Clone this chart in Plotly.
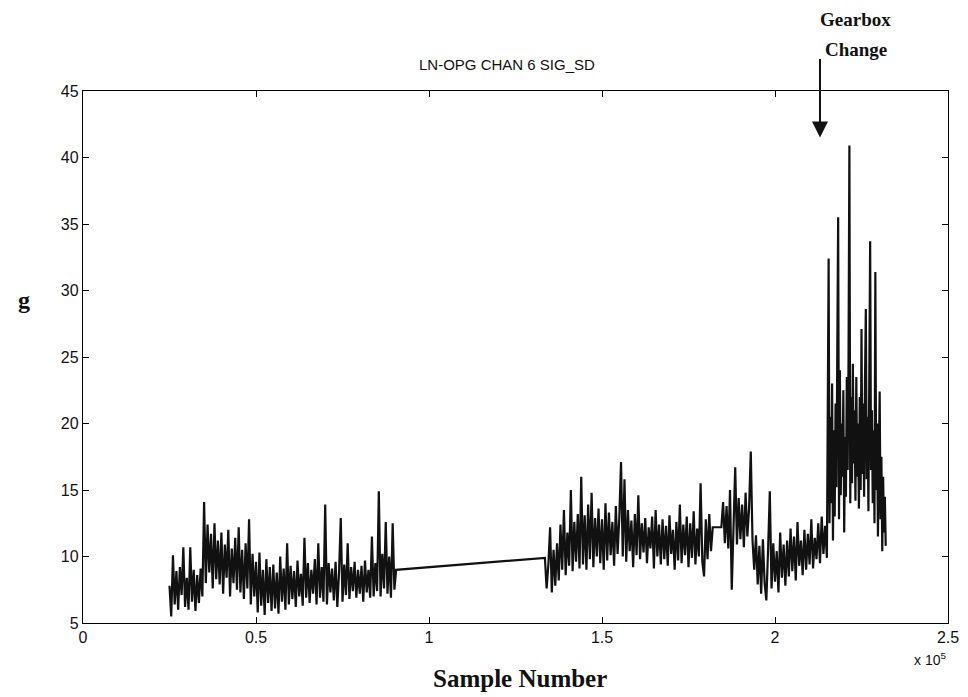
import numpy as np
import plotly.graph_objects as go

# ---- data (sample number, g) ----
# segment 1: samples 25000..90500, step 500
seg1_start, seg1_step = 25000, 500
seg1_values = [
    7.8, 5.5, 10.1, 6.4, 8.9, 6.0, 9.2, 7.1, 10.7, 6.2,
    8.4, 6.0, 10.7, 6.6, 9.0, 5.9, 8.6, 6.5, 9.1, 7.0,
    14.1, 8.0, 12.4, 8.8, 11.7, 7.6, 12.5, 8.3, 11.2, 7.9,
    11.8, 7.2, 10.9, 8.4, 12.0, 7.0, 10.6, 8.0, 11.4, 7.5,
    12.2, 7.3, 10.5, 6.8, 11.0, 7.6, 12.8, 6.4, 10.2, 7.0,
    9.6, 5.8, 10.3, 6.3, 9.0, 5.6, 9.8, 6.5, 9.2, 5.9,
    9.4, 6.1, 8.8, 5.7, 10.0, 6.6, 9.1, 6.0, 11.0, 6.4,
    9.3, 6.8, 8.9, 6.2, 9.7, 7.0, 8.7, 6.3, 11.4, 6.9,
    9.5, 6.5, 9.0, 7.2, 9.8, 6.4, 11.0, 6.9, 9.2, 6.6,
    13.9, 6.4, 9.5, 7.3, 9.1, 6.7, 9.6, 6.2, 8.8, 12.9,
    6.6, 9.4, 7.1, 11.0, 6.8, 9.2, 7.4, 9.6, 6.9, 9.0,
    7.2, 9.3, 6.6, 9.7, 7.3, 9.0, 6.9, 11.5, 7.0, 9.5,
    7.4, 14.9, 7.0, 10.2, 7.6, 12.6, 7.2, 10.0, 6.9, 12.5, 7.5, 9.0,
]

# segment 2a: samples 133500..182000, step 500
seg2a_start, seg2a_step = 133500, 500
seg2a_values = [
    9.9, 7.6, 9.4, 12.2, 7.3, 10.5, 7.8, 11.0, 8.2,
    12.4, 9.0, 13.5, 8.6, 11.8, 9.3, 15.0, 8.9, 12.6, 9.6, 13.2, 9.1,
    16.0, 9.4, 13.1, 9.0, 13.9, 9.8, 14.8, 9.2, 12.9, 10.0, 13.6, 9.5,
    12.8, 9.0, 14.0, 9.7, 13.3, 10.1, 12.6, 9.3, 13.8, 10.2, 12.9, 17.1,
    10.0, 15.8, 9.6, 13.5, 10.4, 12.7, 9.2, 13.2, 10.1, 14.6, 9.8, 12.5,
    10.3, 12.9, 9.5, 12.2, 10.6, 13.0, 9.1, 13.5, 10.0, 12.4, 9.4, 12.8,
    9.8, 12.3, 9.3, 13.1, 10.2, 12.0, 9.0, 12.6, 9.7, 13.9, 9.5, 12.4,
    10.1, 13.0, 9.2, 12.5, 9.9, 13.4, 9.4, 12.1, 10.0, 15.5, 9.6, 8.5,
    12.8, 9.8, 13.2, 10.4,
    12.2,
]

# segment 2b: samples 184500..215000, step 500
seg2b_start, seg2b_step = 184500, 500
seg2b_values = [
    12.2, 14.1, 11.0, 13.8, 10.6, 15.0, 7.5, 13.2, 16.7, 10.9,
    14.4, 11.3, 13.9, 10.7, 14.8, 11.5, 13.6, 17.9, 11.2,
    9.0, 11.6, 7.9, 10.8, 7.2, 11.3, 8.0, 6.7, 10.5, 14.9,
    7.6, 11.0, 8.1, 10.4, 7.3, 11.8, 8.4, 10.9, 7.8, 11.2,
    8.5, 12.1, 8.9, 11.5, 8.2, 12.6, 9.3, 11.2, 8.6, 12.0,
    9.0, 11.7, 9.4, 12.8, 9.1, 11.4, 9.8, 12.5, 9.5, 13.0,
    10.2, 12.3, 9.9,
]

# segment 2c: samples 215500..232000, step 250
seg2c_start, seg2c_step = 215500, 250
seg2c_values = [
    32.4, 12.5, 20.5, 14.0, 23.0, 11.2, 19.5, 13.0, 21.5, 15.2,
    22.8, 35.5, 12.8, 24.0, 14.6, 20.0, 16.0, 22.5, 11.8, 19.0,
    14.5, 23.5, 16.5, 25.0, 40.9, 14.0, 22.0, 15.5, 24.5, 17.0,
    21.0, 14.2, 23.5, 16.0, 20.0, 13.6, 22.0, 15.0, 27.1, 16.2,
    21.5, 14.5, 23.0, 28.6, 15.8, 20.5, 13.4, 22.5, 33.7, 16.5,
    21.0, 14.0, 19.5, 12.5, 31.4, 15.0, 20.0, 11.5, 18.0, 22.4,
    12.8, 17.5, 10.4, 16.0, 11.8, 14.5, 10.8,
]

x_tick_vals = [0, 50000, 100000, 150000, 200000, 250000]
x_tick_text = ["0", "0.5", "1", "1.5", "2", "2.5"]
y_tick_vals = [5, 10, 15, 20, 25, 30, 35, 40, 45]

title_text = "LN-OPG CHAN 6 SIG_SD"
event_label = "Gearbox<br>Change"
event_sample = 213000
event_value = 41.5


def seg_x(start, step, vals):
    return [start + step * i for i in range(len(vals))]


xs = (seg_x(seg1_start, seg1_step, seg1_values)
      + seg_x(seg2a_start, seg2a_step, seg2a_values)
      + seg_x(seg2b_start, seg2b_step, seg2b_values)
      + seg_x(seg2c_start, seg2c_step, seg2c_values))
ys = seg1_values + seg2a_values + seg2b_values + seg2c_values

fig = go.Figure()
fig.add_trace(go.Scatter(x=xs, y=ys, mode="lines",
                         line=dict(color="#111111", width=2.2),
                         showlegend=False, hoverinfo="skip"))

axis_common = dict(showline=True, linecolor="black", linewidth=1.4,
                   mirror="allticks", ticks="inside", ticklen=6,
                   tickcolor="black", showgrid=False, zeroline=False,
                   tickfont=dict(family="Arial, Liberation Sans", size=16, color="#111"))

fig.update_layout(
    width=968, height=697,
    margin=dict(l=75, r=28, t=83, b=82),
    paper_bgcolor="white", plot_bgcolor="white",
    xaxis=dict(range=[0, 250000], tickvals=x_tick_vals, ticktext=x_tick_text,
               **axis_common),
    yaxis=dict(range=[5, 45], tickvals=y_tick_vals, **axis_common),
)

# title
fig.add_annotation(text=title_text, xref="paper", yref="paper",
                   x=0.49, y=1.0, yshift=37, showarrow=False,
                   font=dict(family="Arial, Liberation Sans", size=15, color="#111"))
# x label
fig.add_annotation(text="<b>Sample Number</b>", xref="paper", yref="paper",
                   x=0.505, y=0, yshift=-71, showarrow=False,
                   font=dict(family="Liberation Serif, Times New Roman", size=25, color="#111"))
# exponent
fig.add_annotation(text="x 10<sup>5</sup>", xref="paper", yref="paper",
                   x=1.0, y=0, yshift=-47, showarrow=False,
                   font=dict(family="Arial, Liberation Sans", size=14, color="#111"))
# y label
fig.add_annotation(text="<b>g</b>", xref="paper", yref="paper",
                   x=0, xshift=-67, y=0.607, showarrow=False,
                   font=dict(family="Liberation Serif, Times New Roman", size=24, color="#111"))
# event arrow
fig.add_annotation(x=event_sample, y=event_value, xref="x", yref="y",
                   text="", showarrow=True, ax=0, ay=-80,
                   arrowhead=2, arrowsize=1.6, arrowwidth=2, arrowcolor="#111")
fig.add_annotation(text="<b>Gearbox</b>", xref="x", yref="paper",
                   x=event_sample, xshift=36, y=1.0, yshift=84, showarrow=False,
                   font=dict(family="Liberation Serif, Times New Roman", size=19, color="#111"))
fig.add_annotation(text="<b>Change</b>", xref="x", yref="paper",
                   x=event_sample, xshift=36, y=1.0, yshift=54, showarrow=False,
                   font=dict(family="Liberation Serif, Times New Roman", size=19, color="#111"))

fig.write_html("out.html")
